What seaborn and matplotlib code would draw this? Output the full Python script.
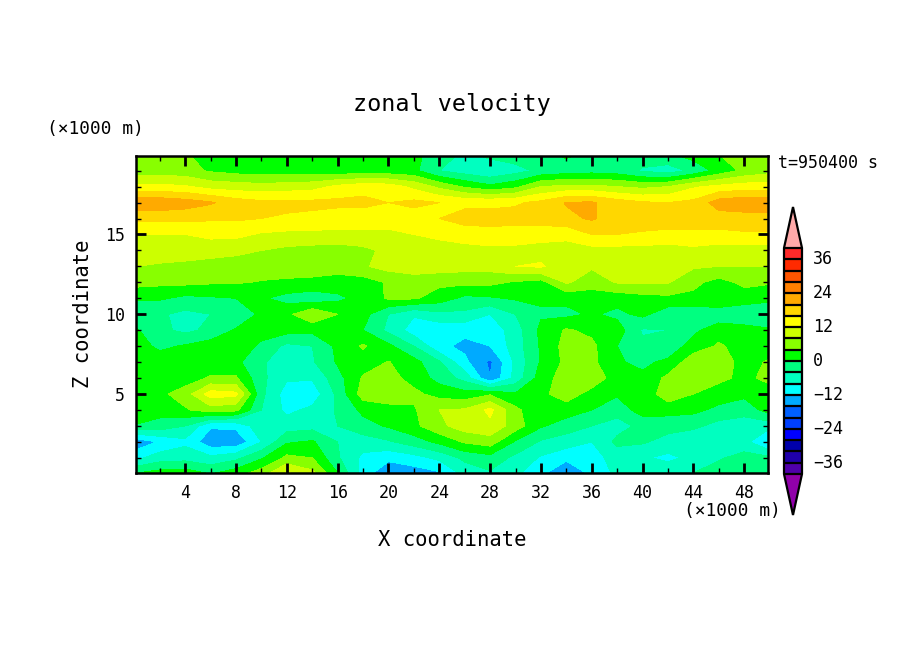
import numpy as np
import matplotlib
matplotlib.use("Agg")
import matplotlib.pyplot as plt
from matplotlib.colors import BoundaryNorm, ListedColormap
from matplotlib.ticker import MultipleLocator
from matplotlib.transforms import ScaledTranslation
import seaborn as sns

x_km = [0.125, 2, 4, 6, 8, 10, 12, 14, 16, 18, 20, 22, 24, 26, 28, 30, 32, 34, 36, 38, 40, 42, 44, 46, 48, 49.875]
z_km = [0.05, 1, 2, 3, 4, 5, 6, 7, 8, 9, 10, 11, 12, 13, 14, 15, 16, 17, 18, 19, 19.95]

u_z00 = [0, 1.5, 2, -0.5, 2, 6, 12.5, 9, 0, -10, -15, -14, -12.5, -6.5, -4.5, -7, -11, -15.5, -11, -7, -6, -5, -4, -2, -1, -1]
u_z01 = [-9, -6, -5.5, -7, -5, -0.5, 5, 4, -3.5, -9, -11, -9.5, -7, -3, -1.5, -5, -8.5, -11, -9.5, -6.5, -7.5, -9, -7, -4.5, -2.5, -3]
u_z02 = [-15, -11.5, -9, -14.5, -15, -8, -0.5, 0.5, -4, -6, -4.5, -2, 1, 4.5, 6, -0.5, -4.5, -6, -8, -3, -3.5, -5.5, -7.5, -7.5, -6.5, -12.5]
u_z03 = [-0.5, -1.5, -4, -11.5, -11, -5.5, -6, -5.5, -4, -1.5, 0.5, 3, 7, 10, 11, 6, 0.5, -2, -4, -5.5, -3, -2.5, -3, -5.5, -6, -6.5]
u_z04 = [4.2, 1.5, 3.5, 6, 5, -4, -9, -7, -3.5, 1, 2.5, 3.5, 8, 8.5, 13, 5, 0.5, 2, 0, -2.5, 2, 1.5, 1, -1, -2.5, 1.5]
u_z05 = [2, 3, 6, 14, 13, -3, -10, -10.5, -3, 6, 6.5, 5, 2.5, 1.5, 3.5, 0.5, 3, 6, 2.5, 0.5, 1, 6.5, 4, 2, 1, 2]
u_z06 = [4.2, 1.5, 2, 4.5, 4.5, -3, -7.5, -7.5, -1.5, 4.5, 5.5, 2.5, -1.5, -5.5, -15.8, -6.5, 2, 6, 6.5, 2, 1, 5, 6, 5, 3, 5]
u_z07 = [3.5, 2.5, 1.5, 1.5, 1, -3.5, -6, -4.5, 0.5, 2, 4.2, 1.5, -3.5, -11, -16.8, -7, 0.5, 5, 5, 0.5, -1, 1, 6.5, 7, 2, 4.5]
u_z08 = [2, -1, 0.5, 2, 3, -1, -5, -4, 1, 4.5, 1, -4, -11, -13, -12, -6, 0.5, 5.5, 5, 0, -3, -3, 2, 4.5, 2.5, 1.5]
u_z09 = [0.5, -3, -5, -3, 0.5, 2, 1.5, 1, 1, 0, -5, -10, -11, -11, -10.5, -6, 1, 4.5, 3, 2, -4.5, -4, -1, 2.5, 1.5, 0.5]
u_z10 = [-3, -3.5, -5, -4, -3.5, 1, 3, 7.5, 4, 1.5, -4, -7.5, -5, -5, -8, -4, -0.5, -1, 0.5, -1, 1, -2.5, -3, -3, -3, -3]
u_z11 = [0.5, 0.5, -1, -0.5, 0, 0.5, -1.5, -2.5, -1, 1.5, 4.5, 4.5, 2, -1, -0.5, 0.5, 0.5, 1, 1.5, 1.5, 2.5, 3, 3, 4, 2, 1]
u_z12 = [5.5, 5, 5, 4.5, 4.3, 3.8, 3.5, 3, 2.5, 2, 4.5, 6, 5, 5, 5, 3.5, 2.5, 8.5, 6, 8.3, 8.5, 8.3, 5, 2.5, 5, 4.5]
u_z13 = [8, 7.5, 7, 6.5, 6, 5.5, 5.5, 6, 5.5, 7.5, 9.5, 10, 10, 9.5, 9.5, 12, 12.5, 9.5, 8.5, 9, 9, 9, 8.5, 8, 8, 8]
u_z14 = [10, 10, 10, 9.5, 9, 8, 7, 6.5, 6, 7, 9, 9.5, 10, 10.5, 11, 11, 10.5, 10.5, 10.5, 10.5, 10.5, 10, 11, 10, 10, 10]
u_z15 = [12, 12, 12, 13, 13, 11.5, 11, 11, 11, 11, 11, 12, 13, 14, 14.5, 14, 13.5, 13, 16, 16, 15.5, 15, 15, 15, 15.5, 15.5]
u_z16 = [17, 17, 17, 16.5, 16.5, 16, 15.5, 15, 14, 14, 14, 14, 16, 17.5, 17.5, 17.5, 18, 19, 20.5, 18, 18, 18, 18, 18, 18, 18]
u_z17 = [23, 23, 22, 20.5, 18, 17, 17, 17, 17, 17, 16, 17, 16, 15, 15, 15.5, 17, 20.3, 20.5, 18, 16.5, 16, 17, 22, 23, 23]
u_z18 = [13, 13, 12.5, 10.5, 10, 9.5, 10, 10.5, 13, 14.5, 14, 11, 7, 3.5, 1, 3, 8, 9, 9, 8, 7, 8, 11.5, 13, 14, 14]
u_z19 = [6, 6, 5.5, 3.5, 2.5, 2, 2, 2, 1.5, 1.5, 1.5, 1, -4, -6, -7.5, -5.5, -3, -2, -1.5, -2, -4.5, -6, -3, 1.5, 5, 6.5]
u_z20 = [5, 5, 4.5, 2, 1.5, 0.5, 1, 2, 2, 2, 1.5, 1, -2, -5, -3, -2, -1, 0.5, -1, -2.5, -2, -1, 1.5, 3.8, 6, 6]

u_rows = [u_z00, u_z01, u_z02, u_z03, u_z04, u_z05, u_z06, u_z07, u_z08, u_z09, u_z10,
          u_z11, u_z12, u_z13, u_z14, u_z15, u_z16, u_z17, u_z18, u_z19, u_z20]

level_values = list(range(-40, 41, 4))
band_colors = ["#5000AA", "#2000AA", "#0000AA", "#0000FF", "#0040FF", "#0060FF", "#00AAFF", "#00FFFF",
               "#00FFC0", "#00FF80", "#00FF00", "#88FF00", "#CCFF00", "#FFFF00", "#FFD700", "#FFAA00",
               "#FF8000", "#FF5500", "#FF2A00", "#FF2A2A"]
under_color = "#9000AA"
over_color = "#FFAAAA"
x_ticks = [4, 8, 12, 16, 20, 24, 28, 32, 36, 40, 44, 48]
z_ticks = [5, 10, 15]
bar_ticks = [-36, -24, -12, 0, 12, 24, 36]

sns.set_theme(style="white")
plt.rcParams["font.family"] = ["DejaVu Sans Mono"]
plt.rcParams["axes.unicode_minus"] = True

W, H = 904, 654
fig = plt.figure(figsize=(W / 100, H / 100), dpi=100, facecolor="white")

def box(l, t, r, b):
    return [l / W, 1 - b / H, (r - l) / W, (b - t) / H]

ax = fig.add_axes(box(136, 156, 768, 473))
cmap = ListedColormap(sns.color_palette(band_colors))
cmap.set_under(under_color)
cmap.set_over(over_color)
norm = BoundaryNorm(level_values, cmap.N)
cf = ax.contourf(x_km, z_km, np.array(u_rows), levels=level_values, cmap=cmap, norm=norm, extend="both")
ax.set_xlim(0.125, 49.875)
ax.set_ylim(0.05, 19.92)
ax.set_axisbelow(False)
ax.set_xticks(x_ticks)
ax.set_yticks(z_ticks)
ax.xaxis.set_minor_locator(MultipleLocator(2))
ax.yaxis.set_minor_locator(MultipleLocator(1))
ax.tick_params(which="major", direction="in", length=7, width=2, top=True, right=True, bottom=True, left=True,
               labelsize=12, colors="black", pad=8)
ax.tick_params(which="minor", direction="in", length=3.5, width=1, top=True, right=True, bottom=True, left=True, colors="black")
for s in ax.spines.values():
    s.set_linewidth(1.8)
    s.set_color("black")
    s.set_visible(True)

cax = fig.add_axes(box(784, 207, 802, 515))
cb = fig.colorbar(cf, cax=cax, extend="both", extendfrac=41 / 226, drawedges=True, ticks=bar_ticks, spacing="uniform")
cb.minorticks_off()
cb.dividers.set_color("black")
cb.dividers.set_linewidth(1.6)
cb.outline.set_linewidth(1.6)
cb.outline.set_edgecolor("black")
cb.ax.tick_params(which="both", length=0, labelsize=12, pad=8, colors="black")
for label in cb.ax.get_yticklabels():
    label.set_transform(label.get_transform() + ScaledTranslation(0, 2 / 100, fig.dpi_scale_trans))

fig.text(452 / W, 1 - 104 / H, "zonal velocity", fontsize=16.8, ha="center", va="center", color="black")
fig.text(452 / W, 1 - 540 / H, "X coordinate", fontsize=14.8, ha="center", va="center", color="black")
fig.text(83 / W, 1 - 314 / H, "Z coordinate", fontsize=14.8, ha="center", va="center", rotation=90, color="black")
fig.text(47 / W, 1 - 129 / H, "(×1000 m)", fontsize=12.9, ha="left", va="center", color="black")
fig.text(781 / W, 1 - 511 / H, "(×1000 m)", fontsize=12.9, ha="right", va="center", color="black")
fig.text(778 / W, 1 - 163 / H, "t=950400 s", fontsize=12, ha="left", va="center", color="black")

fig.savefig("out.png", dpi=100, facecolor="white")
